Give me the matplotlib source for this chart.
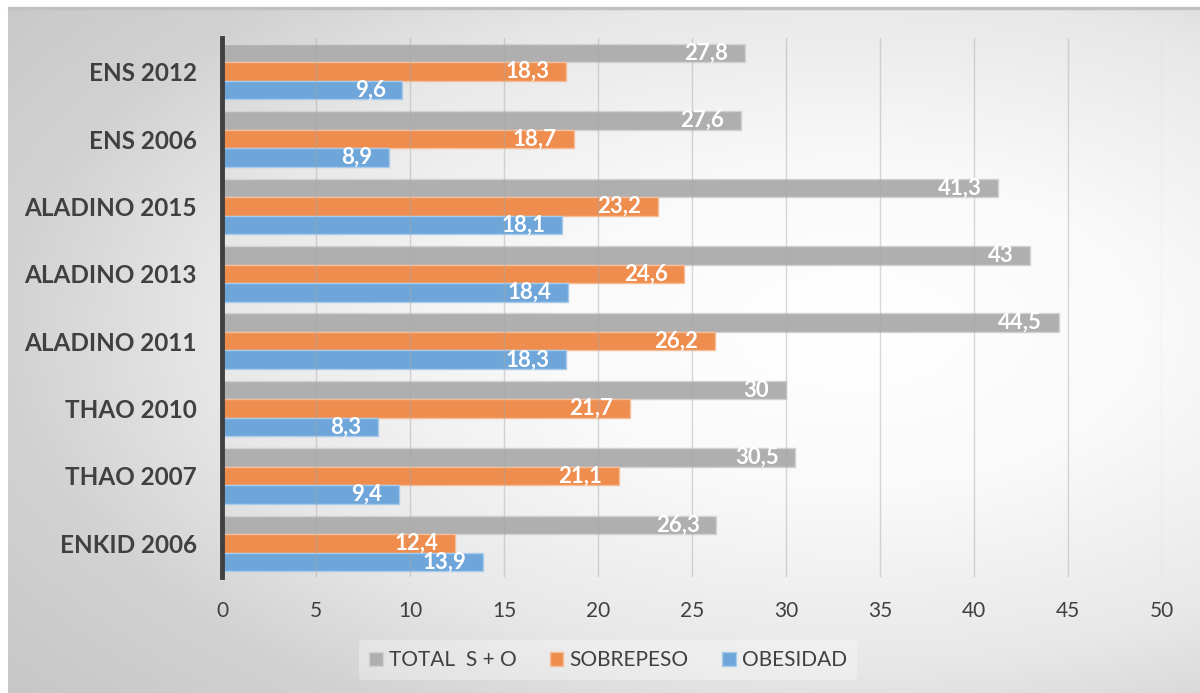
import matplotlib.pyplot as plt
import numpy as np
from matplotlib.patches import Patch

categories = ['ENS 2012', 'ENS 2006', 'ALADINO 2015', 'ALADINO 2013',
              'ALADINO 2011', 'THAO 2010', 'THAO 2007', 'ENKID 2006']
total = [27.8, 27.6, 41.3, 43, 44.5, 30, 30.5, 26.3]
sobrepeso = [18.3, 18.7, 23.2, 24.6, 26.2, 21.7, 21.1, 12.4]
obesidad = [9.6, 8.9, 18.1, 18.4, 18.3, 8.3, 9.4, 13.9]

series = [('TOTAL  S + O', total, '#AFAFAF', '#D2D2D2'),
          ('SOBREPESO', sobrepeso, '#EE8D4E', '#F6BE98'),
          ('OBESIDAD', obesidad, '#6EA6DA', '#A9CBEA')]

plt.rcParams['font.family'] = ['Lato', 'DejaVu Sans']

fig = plt.figure(figsize=(12, 6.93), dpi=100)

# radial grey background of the chart area
bg = fig.add_axes([8 / 1200, 0, 1 - 8 / 1200, 1 - 8 / 693])
h, w = 685, 1192
yy, xx = np.mgrid[0:h, 0:w]
r = np.sqrt(((xx + 8 - 850) / 850) ** 2 + ((yy + 8 - 330) / 450) ** 2)
g = np.interp(r, [0, 0.35, 0.74, 0.99, 1.3], [255, 250, 232, 210, 198]) / 255
bg.imshow(np.dstack([g, g, g]), aspect='auto', extent=[0, 1, 0, 1])
bg.set_axis_off()
fig.patches.append(plt.Rectangle((8 / 1200, 1 - 9 / 693), 1, 2 / 693,
                                 transform=fig.transFigure, color='#C0C0C0'))

ax = fig.add_axes([222 / 1200, 1 - 577 / 693, 940 / 1200, 539 / 693])
ax.set_facecolor('none')

y = np.arange(len(categories))
bh = 0.275
for i, (name, vals, col, edge) in enumerate(series):
    pos = y + (i - 1) * bh
    bars = ax.barh(pos, vals, height=bh, color=col, edgecolor=edge,
                   linewidth=1, label=name, zorder=2)
    for b, v in zip(bars, vals):
        txt = ('%g' % v).replace('.', ',')
        ax.annotate(txt, (v, b.get_y() + b.get_height() / 2),
                    xytext=(-12, 0), textcoords='offset points',
                    ha='right', va='center', color='white',
                    fontsize=16, fontweight='bold', zorder=4)

ax.set_xlim(0, 50)
ax.set_ylim(len(categories) - 0.5, -0.5)
ax.set_xticks(np.arange(0, 51, 5))
ax.set_yticks(y)
ax.set_yticklabels(categories, fontsize=17.5, fontweight='bold', color='#404040')
ax.tick_params(axis='x', labelsize=15, labelcolor='#404040', length=0, pad=17)
ax.tick_params(axis='y', length=0, pad=18)
ax.grid(axis='x', color='#A8A8A8', alpha=0.45, linewidth=1, zorder=3)
ax.set_axisbelow(False)
for s in ['top', 'right', 'bottom']:
    ax.spines[s].set_visible(False)
ax.spines['left'].set_color('#404040')
ax.spines['left'].set_linewidth(3.5)
ax.spines['left'].set_zorder(5)

handles = [Patch(facecolor=c, edgecolor=e, label=n) for n, _, c, e in series]
leg = fig.legend(handles=handles, loc='center', bbox_to_anchor=(608 / 1200, 1 - 660 / 693),
                 ncol=3, frameon=True, fontsize=15, handlelength=0.65,
                 handleheight=0.65, handletextpad=0.3, columnspacing=1.6,
                 borderpad=0.5)
leg.get_frame().set_facecolor('white')
leg.get_frame().set_alpha(0.3)
leg.get_frame().set_edgecolor('none')
for t in leg.get_texts():
    t.set_color('#404040')

fig.savefig('out.png', dpi=100)
